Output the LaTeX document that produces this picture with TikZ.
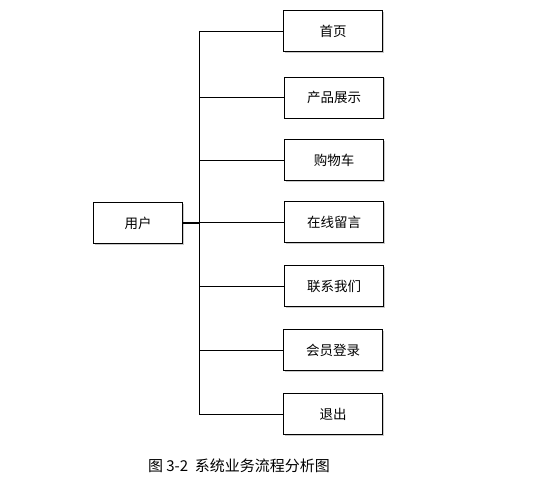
\documentclass[tikz,border=0pt]{standalone}
\usepackage{fontspec}
\setmainfont{Noto Sans CJK SC}
\usetikzlibrary{shadows}
\tikzset{
  funcbox/.style={
    draw,
    fill=white,
    line width=0.8pt,
    minimum width=99pt,
    minimum height=41pt,
    inner sep=0pt,
    drop shadow={shadow xshift=1.2pt, shadow yshift=-1.2pt, fill=black!35, opacity=0.6}},
  userbox/.style={
    funcbox,
    minimum width=89pt},
  branch/.style={
    line width=0.8pt}
}

\begin{document}
\begin{tikzpicture}[x=1pt,y=-1pt,font=\fontsize{13.5}{15}\selectfont]
  \useasboundingbox (0,0) rectangle (555,497);

  % user
  \node (user) [userbox] at (138,223) {用户};

  % functions
  \node (home) [funcbox] at (333,31) {首页};
  \node (product) [funcbox] at (334,97.5) {产品展示};
  \node (cart) [funcbox] at (334,160) {购物车};
  \node (message) [funcbox] at (334,222) {在线留言};
  \node (contact) [funcbox] at (334,286) {联系我们};
  \node (login) [funcbox] at (333,350) {会员登录};
  \node (logout) [funcbox] at (333,414) {退出};

  % trunk
  \coordinate (trunktop) at (199,31);
  \coordinate (trunkbot) at (199,414);
  \draw[branch] (trunktop) -- (trunkbot);
  \draw[line width=1.8pt] (user.east) -- (user.east -| trunktop);

  \foreach \f in {home,product,cart,message,contact,login,logout}
    \draw[branch] (\f.west) -- (\f.west -| trunktop);

  % caption
  \node (caption) [font=\fontsize{15}{17}\selectfont] at (239,466) {图 3-2\ \ 系统业务流程分析图};
\end{tikzpicture}
\end{document}
